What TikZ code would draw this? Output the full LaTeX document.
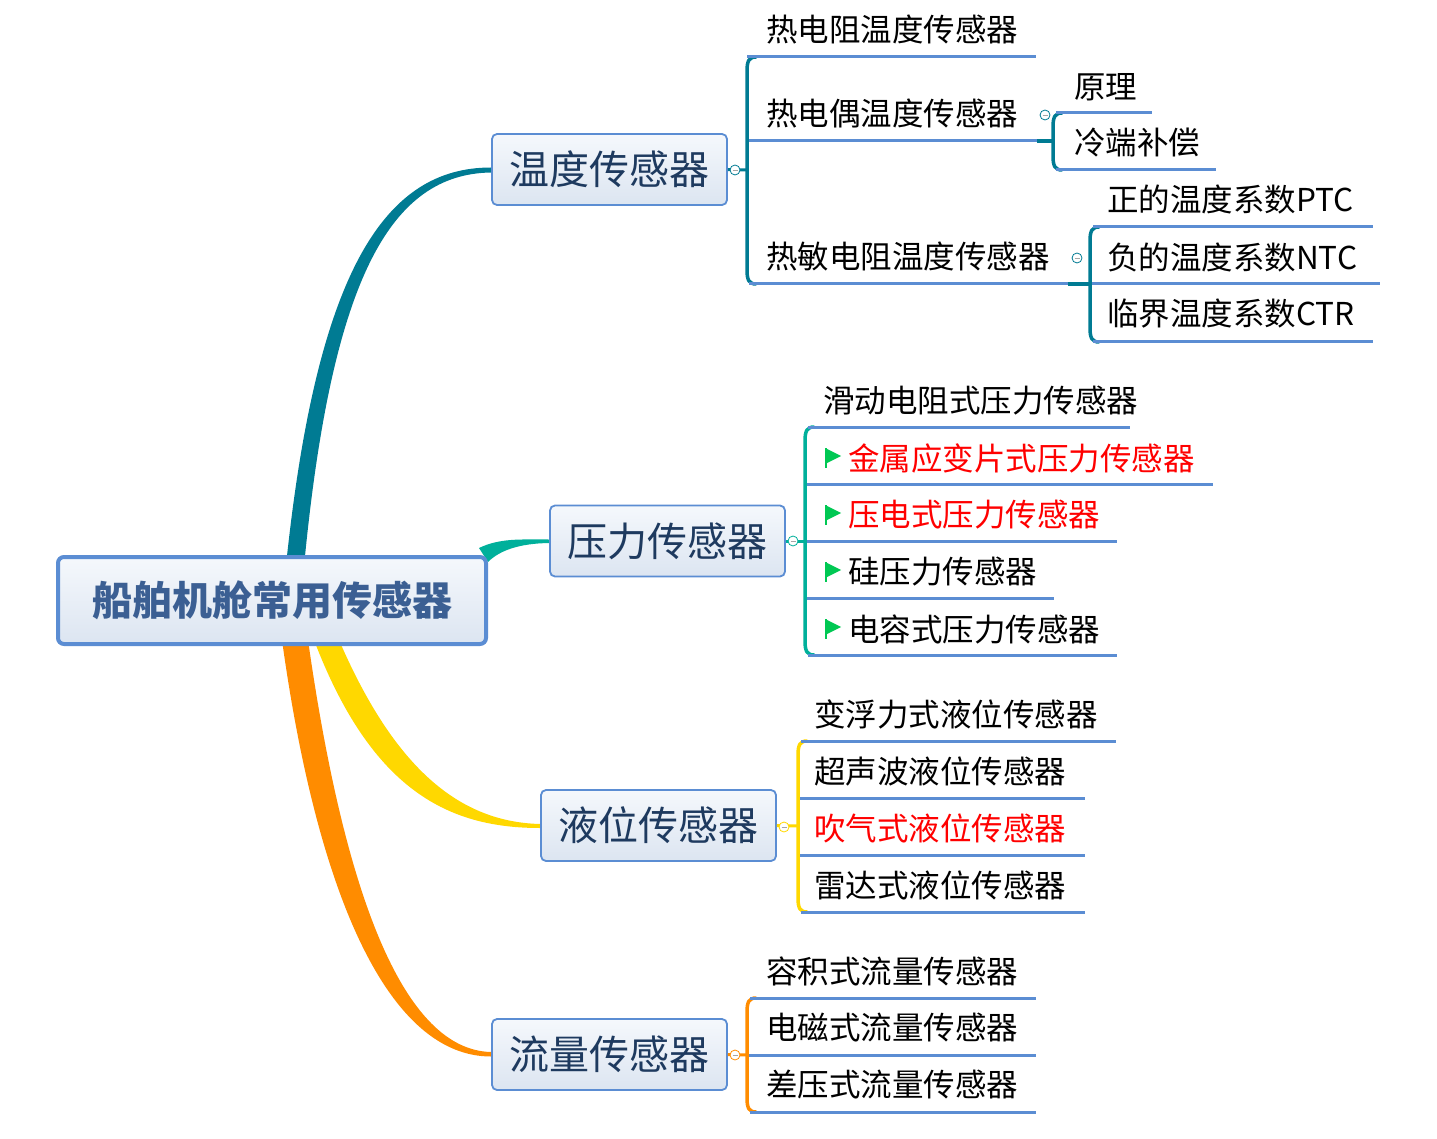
\documentclass[tikz,border=0pt]{standalone}
\usepackage{fontspec}
\setmainfont{Noto Sans CJK SC}
\definecolor{cTemp}{HTML}{007B93}
\definecolor{cPres}{HTML}{00B09B}
\definecolor{cLiq}{HTML}{FFD800}
\definecolor{cFlow}{HTML}{FF8C00}
\definecolor{uline}{HTML}{5B8DD3}
\definecolor{boxborder}{HTML}{5B8DD3}
\definecolor{boxtop}{HTML}{F5F8FC}
\definecolor{boxbot}{HTML}{DCE5F1}
\definecolor{topictext}{HTML}{1E3A5F}
\definecolor{roottext}{HTML}{3B5F93}
\definecolor{flagc}{HTML}{00C853}
\definecolor{redtext}{HTML}{FF0000}
\tikzset{
  rootbox/.style={draw=boxborder, line width=4pt, rounded corners=6pt,
    top color=boxtop, bottom color=boxbot, minimum width=428pt, minimum height=87pt,
    inner sep=0pt, text=roottext, font=\fontsize{40}{44}\selectfont\bfseries},
  topicbox/.style={draw=boxborder, line width=1.8pt, rounded corners=5pt,
    top color=boxtop, bottom color=boxbot, minimum width=235pt, minimum height=71pt,
    inner sep=0pt, text=topictext, font=\fontsize{40}{42}\selectfont},
  sub/.style={anchor=west, inner sep=0pt, font=\fontsize{31.5}{34}\selectfont},
  redsub/.style={sub, text=redtext},
  uln/.style={draw=uline, line width=3pt},
  brace/.style={line width=3.5pt, line cap=round},
  collapse/.style={circle, draw=#1, fill=white, line width=0.8pt, minimum size=10pt, inner sep=0pt},
}
\newcommand{\minusin}[1]{\draw[gray!70, line width=0.7pt] ([xshift=-2.5pt]#1.center) -- ([xshift=2.5pt]#1.center);}
\newcommand{\bracepath}[4]{% color, x, ytop, ybottom
  \draw[brace, #1] (#2+9,#3) .. controls (#2+2,#3) and (#2,#3+4) .. (#2,#3+14)
     -- (#2,#4-14) .. controls (#2,#4-4) and (#2+2,#4) .. (#2+9,#4);}
\newcommand{\flagat}[2]{% x, y center
  \fill[flagc] (#1,#2-9) -- (#1+16,#2-1) -- (#1,#2+7) -- cycle;
  \draw[flagc, line width=2pt] (#1+1,#2-9) -- (#1+1,#2+11);}
\begin{document}
\begin{tikzpicture}[x=1pt,y=-1pt]
\useasboundingbox[fill=white] (0,0) rectangle (1437,1139);

% ---------- main tapered branches ----------
\fill[cTemp] (287,556) .. controls (318,270) and (385,167.5) .. (491,167.5)
   -- (491,172.5) .. controls (392,174) and (333,275) .. (305,556) -- cycle;
\fill[cPres] (479,548) .. controls (500,538) and (520,539.5) .. (549,539.5)
   -- (549,543) .. controls (520,543.5) and (500,550) .. (488,562) -- cycle;
\fill[cLiq] (314,640) .. controls (372,792) and (450,828) .. (540,828)
   -- (540,824) .. controls (462,822) and (396,772) .. (339,640) -- cycle;
\fill[cFlow] (282,640) .. controls (318,900) and (390,1056.5) .. (491,1056.5)
   -- (491,1052) .. controls (405,1050) and (345,900) .. (308,640) -- cycle;

% ---------- root and topics ----------
\node[rootbox] (root) at (272,600.5) {船舶机舱常用传感器};
\node[topicbox] (temp) at (609.5,169.5) {温度传感器};
\node[topicbox] (pres) at (667.5,541) {压力传感器};
\node[topicbox] (liq) at (658.5,825.5) {液位传感器};
\node[topicbox] (flow) at (609.5,1054.5) {流量传感器};

% ---------- temperature group ----------
\coordinate (tb) at (747,170);
\draw[cTemp, line width=3pt] (temp.east) -- (tb);
\bracepath{cTemp}{747}{57}{284}
\draw[uln] (747,57) -- (1036,57);
\draw[uln] (749,141) -- (1037,141);
\draw[uln] (749,284) -- (1068,284);
\node[sub] (t1) at (766,30) {热电阻温度传感器};
\node[sub] (t2) at (766,114) {热电偶温度传感器};
\node[sub] (t3) at (766,257) {热敏电阻温度传感器};
\node[collapse=cTemp] (ct) at (735,170) {}; \minusin{ct}

\coordinate (t2b) at (1053,141);
\draw[cTemp, line width=3.5pt] (1037,141) -- (t2b);
\bracepath{cTemp}{1053}{113}{170}
\draw[uln] (1056,113) -- (1152,113);
\draw[uln] (1056,170) -- (1216,170);
\node[sub] (t21) at (1074,87) {原理};
\node[sub] (t22) at (1074,143) {冷端补偿};
\node[collapse=cTemp] (ct2) at (1045,115) {}; \minusin{ct2}

\coordinate (t3b) at (1090,284);
\draw[cTemp, line width=3.5pt] (1068,284) -- (t3b);
\bracepath{cTemp}{1090}{227}{342}
\draw[uln] (1093,227) -- (1373,227);
\draw[uln] (1092,284) -- (1380,284);
\draw[uln] (1093,342) -- (1373,342);
\node[sub] (t31) at (1107,200) {正的温度系数PTC};
\node[sub] (t32) at (1107,257) {负的温度系数NTC};
\node[sub] (t33) at (1107,314) {临界温度系数CTR};
\node[collapse=cTemp] (ct3) at (1077,258) {}; \minusin{ct3}

% ---------- pressure group ----------
\coordinate (pb) at (805,541);
\draw[cPres, line width=3pt] (pres.east) -- (pb);
\bracepath{cPres}{805}{427}{655}
\draw[uln] (808,427) -- (1130,427);
\draw[uln] (807,484) -- (1213,484);
\draw[uln] (807,541) -- (1117,541);
\draw[uln] (807,598) -- (1054,598);
\draw[uln] (808,655) -- (1117,655);
\node[sub] (p1) at (823,401) {滑动电阻式压力传感器};
\node[redsub] (p2) at (848,458) {金属应变片式压力传感器};
\node[redsub] (p3) at (848,515) {压电式压力传感器};
\node[sub] (p4) at (848,572) {硅压力传感器};
\node[sub] (p5) at (848,629) {电容式压力传感器};
\flagat{825}{457}
\flagat{825}{514}
\flagat{825}{571}
\flagat{825}{628}
\node[collapse=cPres] (cp) at (793,541) {}; \minusin{cp}

% ---------- liquid level group ----------
\coordinate (lb) at (798,826);
\draw[cLiq, line width=3pt] (liq.east) -- (lb);
\bracepath{cLiq}{798}{741}{912}
\draw[uln] (801,741) -- (1116,741);
\draw[uln] (800,798) -- (1085,798);
\draw[uln] (800,855) -- (1085,855);
\draw[uln] (801,912) -- (1085,912);
\node[sub] (l1) at (814,714) {变浮力式液位传感器};
\node[sub] (l2) at (814,771) {超声波液位传感器};
\node[redsub] (l3) at (814,828) {吹气式液位传感器};
\node[sub] (l4) at (814,885) {雷达式液位传感器};
\node[collapse=cLiq] (cl) at (784,827) {}; \minusin{cl}

% ---------- flow group ----------
\coordinate (fb) at (747,1055);
\draw[cFlow, line width=3pt] (flow.east) -- (fb);
\bracepath{cFlow}{747}{998}{1112}
\draw[uln] (750,998) -- (1036,998);
\draw[uln] (749,1055) -- (1036,1055);
\draw[uln] (750,1112) -- (1036,1112);
\node[sub] (f1) at (766,971) {容积式流量传感器};
\node[sub] (f2) at (766,1028) {电磁式流量传感器};
\node[sub] (f3) at (766,1085) {差压式流量传感器};
\node[collapse=cFlow] (cf) at (735,1055) {}; \minusin{cf}
\end{tikzpicture}
\end{document}
